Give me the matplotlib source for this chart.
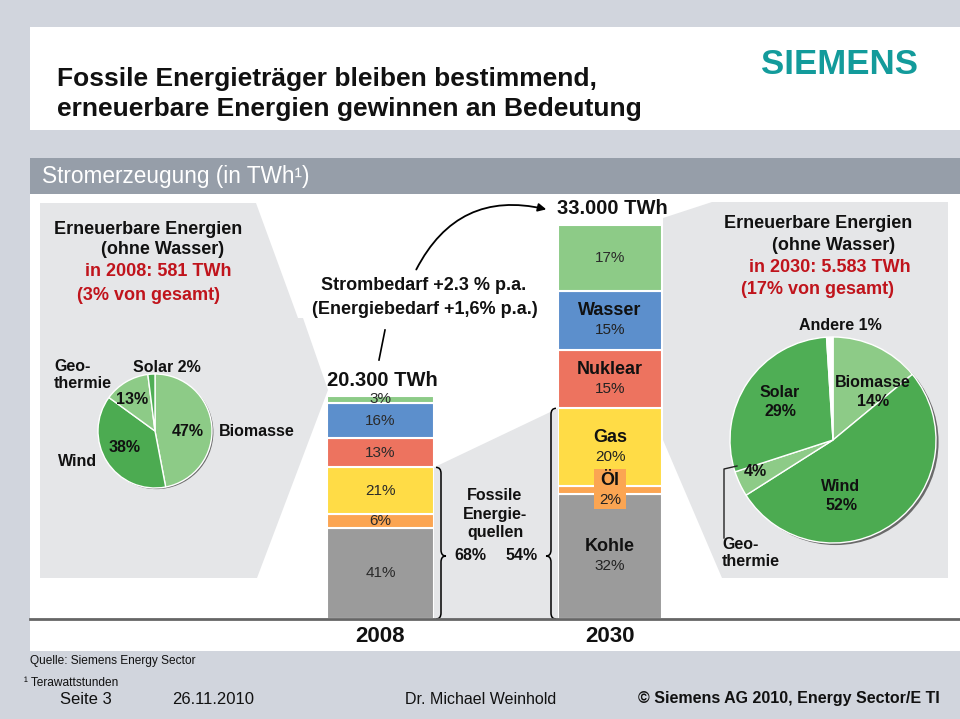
import matplotlib
matplotlib.use('Agg')
import matplotlib.pyplot as plt
from matplotlib.patches import Polygon, Rectangle, FancyArrowPatch, PathPatch, Circle
from matplotlib.path import Path
from matplotlib.lines import Line2D

plt.rcParams['font.family'] = ['Liberation Sans', 'DejaVu Sans']

# ---------------- data ----------------
years = ['2008', '2030']
totals = ['20.300 TWh', '33.000 TWh']
sources = ['Kohle', 'Öl', 'Gas', 'Nuklear', 'Wasser', 'Erneuerbare']   # bottom -> top
pct_2008 = [41, 6, 21, 13, 16, 3]
pct_2030 = [32, 2, 20, 15, 15, 17]
names_2030 = ['Kohle', 'Öl', 'Gas', 'Nuklear', 'Wasser', '']
bar_colors = ['#9b9b9b', '#fba552', '#ffdc46', '#ed735f', '#5c8fcc', '#8dcb87']
n_fossil = 3

pie08_labels = ['Biomasse', 'Wind', 'Geothermie', 'Solar']
pie08_values = [47, 38, 13, 2]
pie30_labels = ['Biomasse', 'Wind', 'Geothermie', 'Solar', 'Andere']
pie30_values = [14, 52, 4, 29, 1]

LIGHT = '#8dcb87'
DARK = '#4cab51'
MED = '#4fae55'
pie08_colors = [LIGHT, DARK, LIGHT, MED]
pie30_colors = [LIGHT, DARK, LIGHT, MED, 'white']

RED = '#c0141c'
TEAL = '#139b9b'
INK = '#111111'

# ---------------- figure ----------------
W, H = 960, 719
fig = plt.figure(figsize=(9.6, 7.19), dpi=100)
fig.patch.set_facecolor('#d1d5dd')
ax = fig.add_axes([0, 0, 1, 1])
ax.set_xlim(0, W)
ax.set_ylim(H, 0)
ax.axis('off')


def rect(x0, y0, x1, y1):
    return [x0 / W, 1 - y1 / H, (x1 - x0) / W, (y1 - y0) / H]


# panels
ax.add_patch(Rectangle((30, 27), 930, 103, fc='white', ec='none'))
ax.add_patch(Rectangle((30, 158), 930, 36, fc='#969ea9', ec='none'))
ax.add_patch(Rectangle((30, 194), 930, 457, fc='white', ec='none'))
GREY = '#e5e6e8'
ax.add_patch(Polygon([(40, 203), (256, 203), (298, 318), (303, 318), (328, 390),
                      (257, 578), (40, 578)], closed=True, fc=GREY, ec='none'))
ax.add_patch(Polygon([(663, 218), (712, 202), (948, 202), (948, 578), (722, 578),
                      (663, 440)], closed=True, fc=GREY, ec='none'))

# header texts
ax.text(57, 79, 'Fossile Energieträger bleiben bestimmend,',
        fontsize=19, fontweight='bold', va='center', ha='left', color=INK)
ax.text(57, 109, 'erneuerbare Energien gewinnen an Bedeutung',
        fontsize=19, fontweight='bold', va='center', ha='left', color=INK)
ax.text(840, 64, 'SIEMENS', fontsize=25, fontweight='bold', color=TEAL,
        ha='center', va='center')
ax.text(42, 177, 'Stromerzeugung (in TWh¹)', fontsize=16.3, color='white',
        ha='left', va='center')

# ---------------- stacked bars ----------------
BASE = 619
bar_specs = [(327, 434, 396, pct_2008, [''] * 6), (558, 662, 225, pct_2030, names_2030)]
fossil_tops = []
for (x0, x1, top, pcts, names), total, year in zip(bar_specs, totals, years):
    bax = fig.add_axes(rect(x0, top, x1, BASE))
    tot = sum(pcts)
    bax.set_xlim(-0.5, 0.5)
    bax.set_ylim(0, tot)
    bax.axis('off')
    cum = 0
    for p, c, nm in zip(pcts, bar_colors, names):
        bax.bar(0, p, bottom=cum, width=1, color=c, edgecolor='white', linewidth=1.5, zorder=1)
        cy = cum + p / 2
        if nm == 'Öl':
            hh = tot * 40 / (BASE - top)
            bax.add_patch(Rectangle((-0.155, cy - hh / 2 + 0.2), 0.31, hh,
                                    fc=bar_colors[1], ec='none', zorder=2))
        if nm:
            bax.annotate(nm, (0, cy), xytext=(0, 7), textcoords='offset points',
                         ha='center', va='center', fontsize=13, fontweight='bold',
                         color=INK, zorder=4)
            bax.annotate(f'{p}%', (0, cy), xytext=(0, -7), textcoords='offset points',
                         ha='center', va='center', fontsize=11, color='#222', zorder=4)
        else:
            bax.text(0, cy, f'{p}%', ha='center', va='center', fontsize=11,
                     color='#2a2a2a', zorder=4)
        cum += p
    fossil_tops.append(BASE - (BASE - top) * sum(pcts[:n_fossil]) / tot)
    ax.text((x0 + x1) / 2 + 2, top - 16, total, fontsize=14.5, fontweight='bold',
            ha='center', va='center', color=INK)
    ax.text((x0 + x1) / 2, 636, year, fontsize=16, fontweight='bold',
            ha='center', va='center', color=INK)

# fossil connector region
xa, xb = bar_specs[0][1], bar_specs[1][0]
ax.add_patch(Polygon([(xa, fossil_tops[0]), (xb, fossil_tops[1]), (xb, BASE), (xa, BASE)],
                     closed=True, fc=GREY, ec='none'))


def brace(x, y0, y1, ytip, w, d):
    xm = x + d * w / 2
    xt = x + d * w
    r = 6
    verts = [(x, y0), (xm, y0), (xm, y0 + r), (xm, ytip - r), (xm, ytip), (xt, ytip),
             (xt, ytip), (xm, ytip), (xm, ytip + r), (xm, y1 - r), (xm, y1), (x, y1)]
    codes = [Path.MOVETO, Path.CURVE3, Path.CURVE3, Path.LINETO, Path.CURVE3, Path.CURVE3,
             Path.MOVETO, Path.CURVE3, Path.CURVE3, Path.LINETO, Path.CURVE3, Path.CURVE3]
    ax.add_patch(PathPatch(Path(verts, codes), fill=False, ec='black', lw=1.1))


TIP = 556
brace(xa + 2, fossil_tops[0], BASE, TIP, 10, 1)
brace(xb - 2, fossil_tops[1], BASE, TIP, 10, -1)
ax.text(495, 514, 'Fossile\nEnergie-\nquellen', fontsize=11.5, fontweight='bold',
        ha='center', va='center', linespacing=1.3, color=INK)
ax.text(470, TIP, f'{sum(pct_2008[:n_fossil])}%', fontsize=11.5, fontweight='bold',
        ha='center', va='center', color=INK)
ax.text(522, TIP, f'{sum(pct_2030[:n_fossil])}%', fontsize=11.5, fontweight='bold',
        ha='center', va='center', color=INK)

# growth annotation
ax.text(424, 286, 'Strombedarf +2.3 % p.a.', fontsize=13, fontweight='bold',
        ha='center', va='center', color=INK)
ax.text(425, 309, '(Energiebedarf +1,6% p.a.)', fontsize=13, fontweight='bold',
        ha='center', va='center', color=INK)
ax.add_line(Line2D([385, 379], [330, 360], color='black', lw=1.2))
ax.add_patch(FancyArrowPatch((415, 272), (549, 210), connectionstyle='arc3,rad=-0.4',
                             arrowstyle='-|>', mutation_scale=12, lw=1.3, color='black'))

# baseline
fig.add_artist(Line2D([30 / W, 1], [1 - BASE / H, 1 - BASE / H], color='#666666', lw=2, zorder=5))


# ---------------- pies ----------------
def draw_pie(cx, cy, r, values, colors):
    m = 1.06
    pax = fig.add_axes(rect(cx - r * m, cy - r * m, cx + r * m, cy + r * m))
    pax.add_patch(Circle((0.025, -0.02), 1.0, fc='#6a6a6a', ec='none', zorder=0))
    pax.pie(values, colors=colors, startangle=90, counterclock=False, radius=1,
            wedgeprops=dict(edgecolor='white', linewidth=1))
    pax.set_xlim(-m, m)
    pax.set_ylim(-m, m)
    pax.axis('off')


draw_pie(155, 431, 57, pie08_values, pie08_colors)
draw_pie(833, 440, 103, pie30_values, pie30_colors)

# overlay for labels on top of the pies
ov = fig.add_axes([0, 0, 1, 1])
ov.set_xlim(0, W)
ov.set_ylim(H, 0)
ov.axis('off')
ov.patch.set_alpha(0)

# left header
kw = dict(fontsize=13, fontweight='bold', ha='left', va='center')
ov.text(54, 229, 'Erneuerbare Energien', color=INK, **kw)
ov.text(101, 250, '(ohne Wasser)', color=INK, **kw)
ov.text(85, 272, 'in 2008: 581 TWh', color=RED, **kw)
ov.text(77, 295, '(3% von gesamt)', color=RED, **kw)
# right header
ov.text(724, 224, 'Erneuerbare Energien', color=INK, **kw)
ov.text(772, 246, '(ohne Wasser)', color=INK, **kw)
ov.text(749, 268, 'in 2030: 5.583 TWh', color=RED, **kw)
ov.text(741, 290, '(17% von gesamt)', color=RED, **kw)

# pie 2008 labels
pk = dict(fontsize=11.5, fontweight='bold', color=INK, va='center')
ov.text(54, 375, 'Geo-\nthermie', ha='left', linespacing=1.2, **pk)
ov.text(133, 368, f'{pie08_labels[3]} {pie08_values[3]}%', ha='left', **pk)
ov.text(132, 399, f'{pie08_values[2]}%', ha='center', **pk)
ov.text(188, 432, f'{pie08_values[0]}%', ha='center', **pk)
ov.text(219, 432, pie08_labels[0], ha='left', **pk)
ov.text(125, 447, f'{pie08_values[1]}%', ha='center', **pk)
ov.text(58, 462, pie08_labels[1], ha='left', **pk)

# pie 2030 labels
ov.text(840, 326, f'{pie30_labels[4]} {pie30_values[4]}%', ha='center', **pk)
ov.text(780, 402, f'{pie30_labels[3]}\n{pie30_values[3]}%', ha='center', linespacing=1.3, **pk)
ov.text(873, 392, f'{pie30_labels[0]}\n{pie30_values[0]}%', ha='center', linespacing=1.3, **pk)
ov.text(755, 472, f'{pie30_values[2]}%', ha='center', **pk)
ov.text(841, 496, f'{pie30_labels[1]}\n{pie30_values[1]}%', ha='center', linespacing=1.3, **pk)
ov.text(722, 553, 'Geo-\nthermie', ha='left', linespacing=1.2, **pk)
ov.add_line(Line2D([724, 724, 737], [538, 469, 466], color='#222', lw=1))

# footer
ov.text(30, 661, 'Quelle: Siemens Energy Sector', fontsize=8.6,
        ha='left', va='center', color=INK)
ov.text(24, 683, '¹ Terawattstunden', fontsize=8.6,
        ha='left', va='center', color=INK)
ov.text(60, 700, 'Seite 3', fontsize=12, ha='left', va='center', color=INK)
ov.text(172, 700, '26.11.2010', fontsize=12, ha='left', va='center', color=INK)
ov.text(405, 700, 'Dr. Michael Weinhold', fontsize=11.5, ha='left',
        va='center', color=INK)
ov.text(940, 698, '© Siemens AG 2010, Energy Sector/E TI', fontsize=11.5,
        fontweight='bold', ha='right', va='center', color=INK)

fig.savefig('out.png', dpi=100, facecolor=fig.get_facecolor())
